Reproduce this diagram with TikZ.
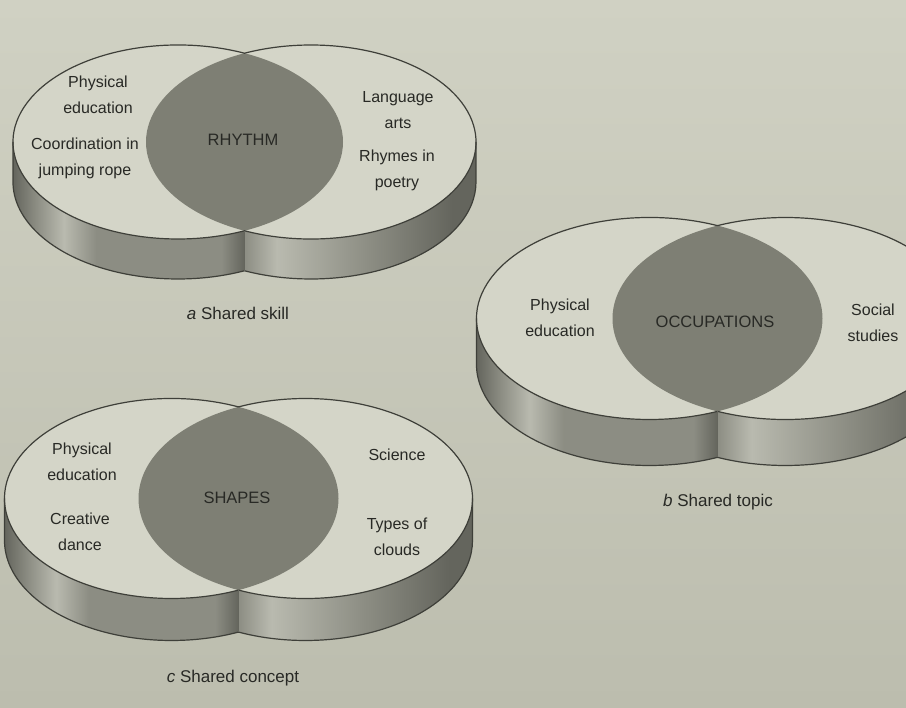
\documentclass[tikz,border=0pt]{standalone}
\usepackage{fontspec}
\setmainfont{Liberation Sans}
\definecolor{paperhi}{RGB}{208,209,195}
\definecolor{paperlo}{RGB}{188,189,174}
\definecolor{topface}{RGB}{212,213,200}
\definecolor{lensgray}{RGB}{126,127,116}
\definecolor{walldk}{RGB}{100,101,93}
\definecolor{wallmd}{RGB}{140,141,131}
\definecolor{walllt}{RGB}{185,186,175}
\definecolor{rimgray}{RGB}{62,63,57}
\definecolor{ink}{RGB}{40,41,37}
\pgfdeclarehorizontalshading{wallleft}{100bp}{color(0bp)=(walldk); color(25bp)=(walldk);
  color(30bp)=(wallmd); color(36bp)=(walllt); color(43bp)=(wallmd); color(70bp)=(wallmd);
  color(75bp)=(walldk); color(100bp)=(walldk)}
\pgfdeclarehorizontalshading{wallright}{100bp}{color(0bp)=(wallmd); color(25bp)=(wallmd);
  color(32bp)=(walllt); color(52bp)=(wallmd); color(70bp)=(walldk); color(100bp)=(walldk)}
\begin{document}
\begin{tikzpicture}[x=1pt,y=1pt,
  lbl/.style={text=ink, align=center, font=\fontsize{16}{26}\selectfont},
  core/.style={text=ink, font=\fontsize{16.5}{20}\selectfont},
  caption/.style={text=ink, font=\fontsize{17}{20}\selectfont},
  rim/.style={draw=rimgray, line width=1.2pt, line join=round}]
\clip (0,0) rectangle (906,-708);
\fill[top color=paperhi, bottom color=paperlo] (0,0) rectangle (906,-708);
% three discs: middle x / half gap / centre y / radii / depth
\foreach \mx/\h/\cy/\rx/\ry/\d in {244.5/66.5/142/165/97/40,
                                   717.5/68/318.5/173/101/46,
                                   238.5/67/498.5/167/100/42}{
  \pgfmathsetmacro\t{acos(\h/\rx)}
  \pgfmathsetmacro\s{\ry*sin(\t)}
  \pgfmathsetmacro\xl{\mx-\h}
  \pgfmathsetmacro\xr{\mx+\h}
  % side walls
  \shade[shading=wallleft] (\xl-\rx,-\cy) -- ++(0,-\d)
    arc[start angle=180, end angle=360-\t, x radius=\rx, y radius=\ry]
    -- (\mx,-\cy-\s)
    arc[start angle=360-\t, end angle=180, x radius=\rx, y radius=\ry] -- cycle;
  \shade[shading=wallright] (\mx,-\cy-\s-\d)
    arc[start angle=180+\t, end angle=360, x radius=\rx, y radius=\ry]
    -- ++(0,\d)
    arc[start angle=360, end angle=180+\t, x radius=\rx, y radius=\ry] -- cycle;
  % top face and shared part
  \fill[topface] (\xl,-\cy) ellipse[x radius=\rx, y radius=\ry]
                 (\xr,-\cy) ellipse[x radius=\rx, y radius=\ry];
  \begin{scope}
    \clip (\xl,-\cy) ellipse[x radius=\rx, y radius=\ry];
    \fill[lensgray] (\xr,-\cy) ellipse[x radius=\rx, y radius=\ry];
  \end{scope}
  % outlines
  \draw[rim] (\mx,-\cy+\s)
    arc[start angle=\t, end angle=360-\t, x radius=\rx, y radius=\ry]
    arc[start angle=180+\t, end angle=540-\t, x radius=\rx, y radius=\ry] -- cycle;
  \draw[rim] (\xl-\rx,-\cy) -- ++(0,-\d)
    arc[start angle=180, end angle=360-\t, x radius=\rx, y radius=\ry]
    arc[start angle=180+\t, end angle=360, x radius=\rx, y radius=\ry]
    -- ++(0,\d);
  \draw[walldk, line width=0.6pt] (\mx,-\cy-\s) -- ++(0,-\d);
}
% a
\node[lbl] (aPE) at (98,-95) {Physical\\education};
\node[lbl] (aCoord) at (85,-158) {Coordination in\\jumping rope};
\node[core] (aCore) at (243,-140) {RHYTHM};
\node[lbl] (aLang) at (398,-110) {Language\\arts};
\node[lbl] (aRhymes) at (397,-170) {Rhymes in\\poetry};
\node[caption] (aCap) at (238,-313) {\textit{a} Shared skill};
% b
\node[lbl] (bPE) at (560,-318) {Physical\\education};
\node[core] (bCore) at (715,-322) {OCCUPATIONS};
\node[lbl] (bSocial) at (873,-323) {Social\\studies};
\node[caption] (bCap) at (718,-502) {\textit{b} Shared topic};
% c
\node[lbl] (cPE) at (82,-462) {Physical\\education};
\node[lbl] (cDance) at (80,-532) {Creative\\dance};
\node[core] (cCore) at (237,-498) {SHAPES};
\node[lbl] (cSci) at (397,-455) {Science};
\node[lbl] (cClouds) at (397,-537) {Types of\\clouds};
\node[caption] (cCap) at (233,-678) {\textit{c} Shared concept};
\end{tikzpicture}
\end{document}
